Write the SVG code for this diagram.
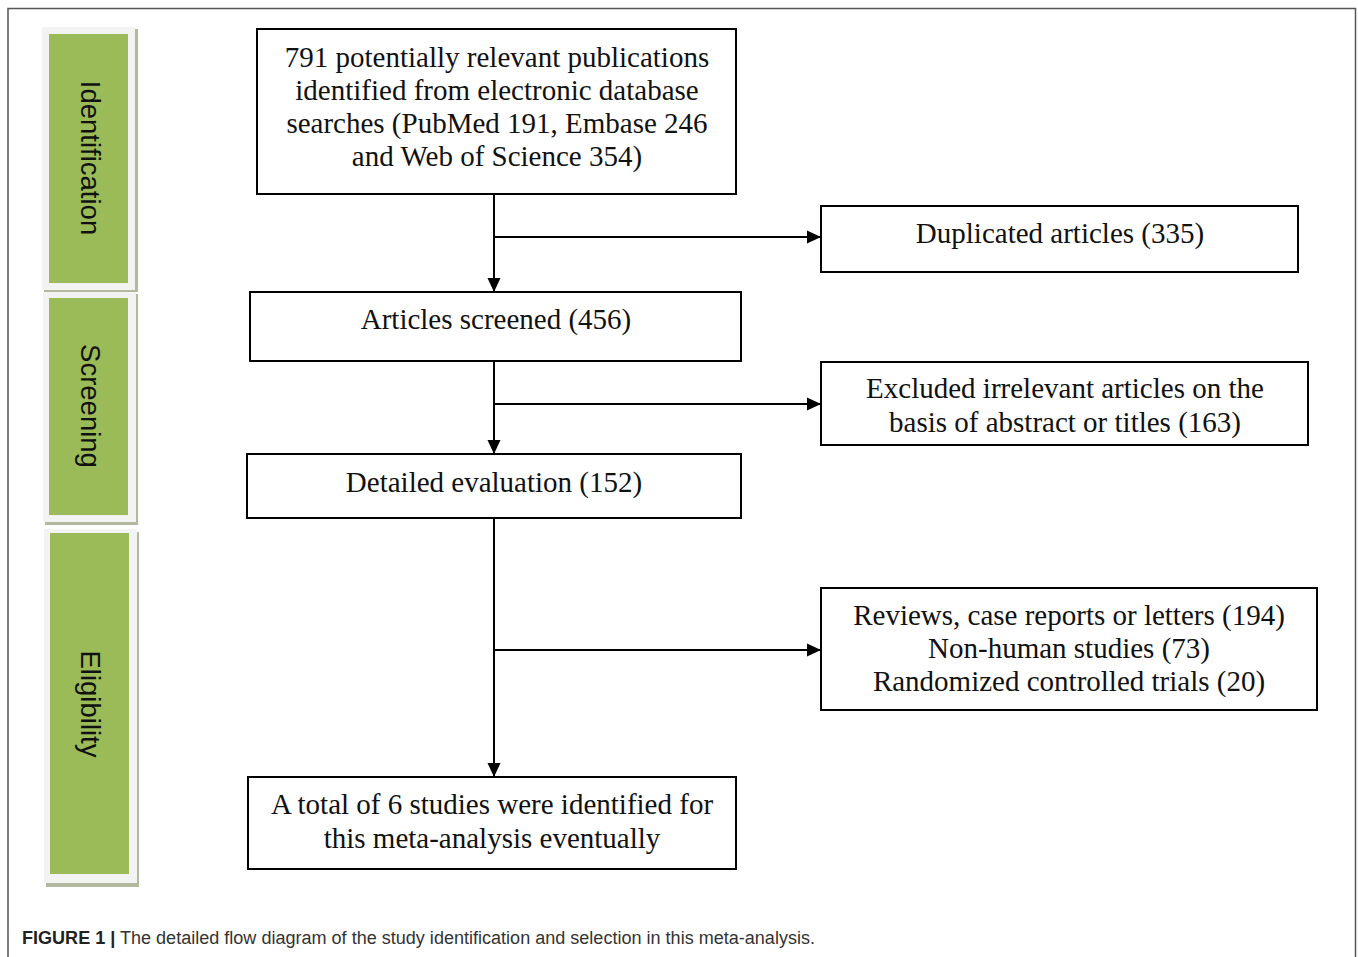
<svg xmlns="http://www.w3.org/2000/svg" width="1358" height="957" viewBox="0 0 1358 957">
<style>
.box{fill:#fff;stroke:#000;stroke-width:2}
.t{font-family:"Liberation Serif","Times New Roman",serif;font-size:29px;fill:#111;text-anchor:middle}
.side{font-family:"Liberation Sans",Arial,sans-serif;font-size:27.5px;fill:#111;text-anchor:middle}
.green{fill:#9bbb59}
.frame{fill:#f3f3f3}
.shadow{fill:#b3b99e}
.conn{stroke:#000;stroke-width:2;fill:none}
.cap{font-family:"Liberation Sans",Arial,sans-serif;font-size:18px;fill:#333}
</style>
<defs>
<marker id="ah" viewBox="0 0 14 14" refX="14" refY="7" markerWidth="14" markerHeight="14" markerUnits="userSpaceOnUse" orient="auto">
<path d="M0,0.5 L14,7 L0,13.5 z" fill="#000"/>
</marker>
</defs>
<rect x="0" y="0" width="1358" height="957" fill="#fff"/>
<rect x="8" y="8.5" width="1347.5" height="960" fill="none" stroke="#555" stroke-width="1.5"/>

<g id="stage-identification">
<rect class="shadow" x="44" y="29" width="94" height="263"/>
<rect class="frame" x="42" y="27" width="93" height="263"/>
<rect class="green" x="49" y="34" width="79" height="249"/>
<text class="side" transform="translate(81,158) rotate(90)">Identification</text>
</g>
<g id="stage-screening">
<rect class="shadow" x="45" y="294" width="93" height="231"/>
<rect class="frame" x="43" y="292" width="93" height="230"/>
<rect class="green" x="49" y="298" width="79" height="217"/>
<text class="side" transform="translate(81,406) rotate(90)">Screening</text>
</g>
<g id="stage-eligibility">
<rect class="shadow" x="46" y="532" width="93" height="355"/>
<rect class="frame" x="44" y="529" width="93" height="354"/>
<rect class="green" x="50" y="533" width="79" height="341"/>
<text class="side" transform="translate(81,704) rotate(90)">Eligibility</text>
</g>

<g id="connectors">
<line class="conn" x1="494" y1="194" x2="494" y2="292" marker-end="url(#ah)"/>
<line class="conn" x1="494" y1="237" x2="821" y2="237" marker-end="url(#ah)"/>
<line class="conn" x1="494" y1="361" x2="494" y2="454" marker-end="url(#ah)"/>
<line class="conn" x1="494" y1="404" x2="821" y2="404" marker-end="url(#ah)"/>
<line class="conn" x1="494" y1="518" x2="494" y2="777" marker-end="url(#ah)"/>
<line class="conn" x1="494" y1="650" x2="821" y2="650" marker-end="url(#ah)"/>
</g>

<g id="n-identified">
<rect class="box" x="257" y="29" width="479" height="165"/>
<text class="t" x="497" y="67">791 potentially relevant publications</text>
<text class="t" x="497" y="100">identified from electronic database</text>
<text class="t" x="497" y="133">searches (PubMed 191, Embase 246</text>
<text class="t" x="497" y="166">and Web of Science 354)</text>
</g>
<g id="n-duplicated">
<rect class="box" x="821" y="206" width="477" height="66"/>
<text class="t" x="1060" y="243">Duplicated articles (335)</text>
</g>
<g id="n-screened">
<rect class="box" x="250" y="292" width="491" height="69"/>
<text class="t" x="496" y="329">Articles screened (456)</text>
</g>
<g id="n-excluded">
<rect class="box" x="821" y="362" width="487" height="83"/>
<text class="t" x="1065" y="398">Excluded irrelevant articles on the</text>
<text class="t" x="1065" y="432">basis of abstract or titles (163)</text>
</g>
<g id="n-detailed">
<rect class="box" x="247" y="454" width="494" height="64"/>
<text class="t" x="494" y="492">Detailed evaluation (152)</text>
</g>
<g id="n-reviews">
<rect class="box" x="821" y="588" width="496" height="122"/>
<text class="t" x="1069" y="625">Reviews, case reports or letters (194)</text>
<text class="t" x="1069" y="658">Non-human studies (73)</text>
<text class="t" x="1069" y="691">Randomized controlled trials (20)</text>
</g>
<g id="n-final">
<rect class="box" x="248" y="777" width="488" height="92"/>
<text class="t" x="492" y="814">A total of 6 studies were identified for</text>
<text class="t" x="492" y="848">this meta-analysis eventually</text>
</g>

<text class="cap" x="22" y="944" textLength="793" lengthAdjust="spacingAndGlyphs"><tspan font-weight="bold" fill="#222">FIGURE 1 |</tspan> The detailed flow diagram of the study identification and selection in this meta-analysis.</text>
</svg>
